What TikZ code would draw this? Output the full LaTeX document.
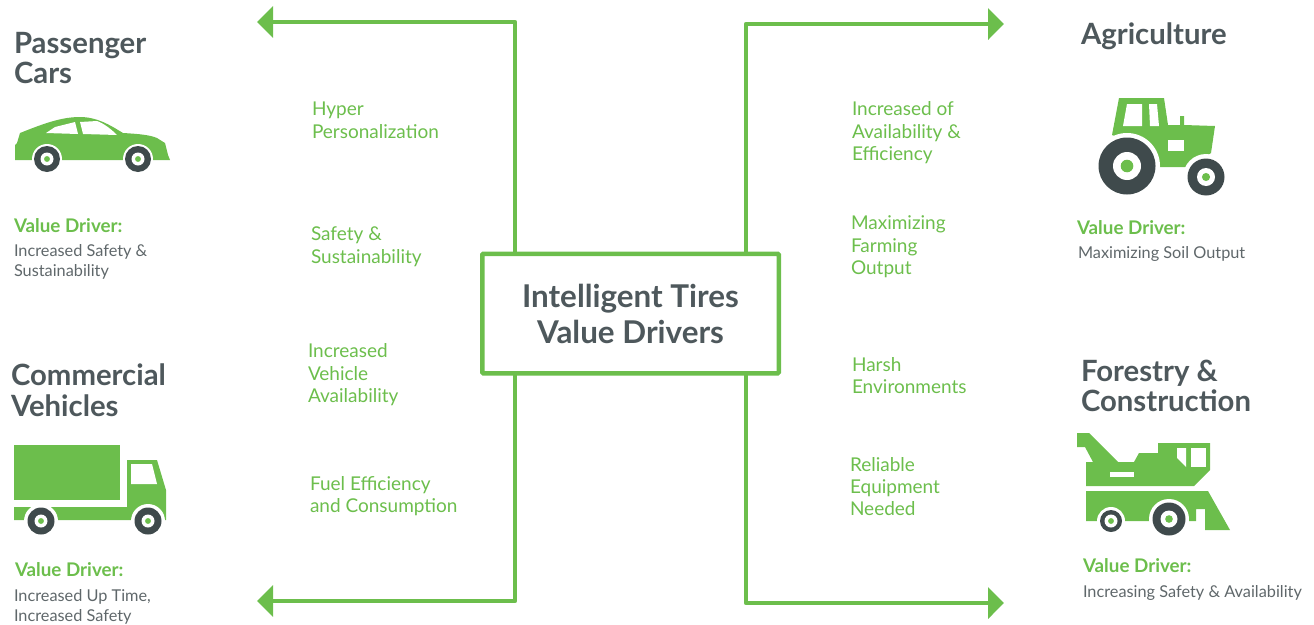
\documentclass[tikz,border=0pt]{standalone}
\usepackage{fontspec}
\setmainfont{Lato}
\usetikzlibrary{arrows.meta}
\definecolor{tiregreen}{HTML}{6CBE4C}
\definecolor{tiredark}{HTML}{3F4A4C}
\definecolor{headgray}{HTML}{4E585C}
\definecolor{bodygray}{HTML}{5F676A}
\newcommand{\tirewheel}[4]{% center, outer, hub, cut radius
    \fill[white] (#1) circle (#4);
    \fill[tiredark] (#1) circle (#2);
    \fill[white] (#1) circle (#3);
    \fill[tiregreen] (#1) circle (0.45*#3);
}
\begin{document}
\begin{tikzpicture}[x=1pt,y=-1pt,
        every node/.style={inner sep=0pt, outer sep=0pt, anchor=north west, align=left},
        heading/.style={font=\fontsize{29.3}{30.5}\selectfont\bfseries, text=headgray},
        benefit/.style={font=\fontsize{19}{22.4}\selectfont, text=tiregreen},
        drivertitle/.style={font=\fontsize{18.8}{20}\selectfont\bfseries, text=tiregreen},
        drivertext/.style={font=\fontsize{16.3}{20}\selectfont, text=bodygray},
        flowline/.style={draw=tiregreen, line width=4.5pt, line join=round,
            -{Triangle[length=16pt,width=31pt]}}]
            \useasboundingbox (0,0) rectangle (1314,624);
            % centre box
            \node[draw=tiregreen, line width=4.5pt, rounded corners=1pt, anchor=center, align=center,
                minimum width=296.5pt, minimum height=119.5pt, text=headgray,
                font=\fontsize{31.4}{36}\selectfont\bfseries] (drivers) at (630.5,313.5) {Intelligent Tires\\Value Drivers};
            \coordinate (tl) at (257,22);
            \coordinate (tr) at (1004,24);
            \coordinate (bl) at (257,601);
            \coordinate (br) at (1004,603);
            \draw[flowline] ([xshift=-115.5pt]drivers.north) |- (tl);
            \draw[flowline] ([xshift=115.5pt]drivers.north) |- (tr);
            \draw[flowline] ([xshift=-115.5pt]drivers.south) |- (bl);
            \draw[flowline] ([xshift=115.5pt]drivers.south) |- (br);
            % left column
            \node[heading] (cars) at (14,32) {Passenger\\Cars};
            \node[drivertitle] (carvalue) at (14,219) {Value Driver:};
            \node[drivertext] (cartext) at (14,244) {Increased Safety \&\\Sustainability};
            \node[heading] (trucks) at (11,364) {Commercial\\Vehicles};
            \node[drivertitle] (truckvalue) at (15,563) {Value Driver:};
            \node[drivertext] (trucktext) at (14,589) {Increased Up Time,\\Increased Safety};
            % left benefits
            \node[benefit] (b1) at (312,102) {Hyper\\Personalization};
            \node[benefit] (b2) at (311,227) {Safety \&\\Sustainability};
            \node[benefit] (b3) at (308,344) {Increased\\Vehicle\\Availability};
            \node[benefit] (b4) at (310,476) {Fuel Efficiency\\and Consumption};
            % right benefits
            \node[benefit] (b5) at (852,102) {Increased of\\Availability \&\\Efficiency};
            \node[benefit] (b6) at (851,216) {Maximizing\\Farming\\Output};
            \node[benefit] (b7) at (852,357) {Harsh\\Environments};
            \node[benefit] (b8) at (850,457) {Reliable\\Equipment\\Needed};
            % right column
            \node[heading] (farm) at (1081,23) {Agriculture};
            \node[drivertitle] (farmvalue) at (1077,221) {Value Driver:};
            \node[drivertext] (farmtext) at (1078,246) {Maximizing Soil Output};
            \node[heading] (forest) at (1081,360) {Forestry \&\\Construction};
            \node[drivertitle] (forestvalue) at (1083,559) {Value Driver:};
            \node[drivertext] (foresttext) at (1083,585) {Increasing Safety \& Availability};
            % car
            \fill[tiregreen] (15,160) -- (15,145) -- (17,143) -- (20,133) .. controls (45,123) and (62,117) .. (80,117)
                .. controls (97,117) and (110,125) .. (123,133) .. controls (140,134) and (150,135) .. (157,138)
                -- (165,143) -- (168,155) -- (170,160) -- cycle;
            \fill[white] (46,133) -- (55,127) -- (75,122) -- (78,134) -- cycle;
            \fill[white] (80,122) -- (97,121) .. controls (105,124) and (112,130) .. (117,135) -- (83,134) -- cycle;
            \tirewheel{47,159}{13pt}{6.5pt}{15pt}
            \tirewheel{138,159}{13pt}{6.5pt}{15pt}
            % truck
            \fill[tiregreen] (14,445) rectangle (120,500);
            \fill[tiregreen] (14,507) -- (127,507) -- (127,460) -- (157,460) -- (166,490) -- (166,520) -- (14,520) -- cycle;
            \fill[white] (131,464) -- (152,464) -- (157,484) -- (131,484) -- cycle;
            \tirewheel{41,521}{13.5pt}{6.5pt}{17pt}
            \tirewheel{148,521}{13.5pt}{6.5pt}{17pt}
            % tractor
            \fill[tiregreen] (1119,98) -- (1164,98) -- (1168,125) -- (1180,125) -- (1180,116) -- (1184,116) -- (1184,125)
                -- (1215,126) -- (1211,153) -- (1190,167) -- (1160,167) -- (1150,150) -- (1112,135) -- cycle;
            \fill[white] (1127,104) -- (1142,104) -- (1142,126) -- (1123,126) -- cycle;
            \fill[white] (1149,104) -- (1157,104) -- (1159,126) -- (1150,126) -- cycle;
            \fill[white] (1168,140) rectangle (1184,151);
            \tirewheel{1127,166}{28.5pt}{14pt}{33pt}
            \tirewheel{1206,177}{18.5pt}{9pt}{23pt}
            % crane
            \fill[tiregreen] (1077,433) -- (1089,433) -- (1118,462) -- (1134,462) -- (1139,453) -- (1158,453) -- (1158,443)
                -- (1210,443) -- (1210,470) -- (1194,486) -- (1086,486) -- (1086,462) -- (1093,462) -- (1085,447) -- (1077,447) -- cycle;
            \fill[white] (1177,448) -- (1186,448) -- (1186,467) -- (1177,458) -- cycle;
            \fill[white] (1191,448) rectangle (1206,467);
            \fill[white] (1110,472) rectangle (1134,477);
            \fill[tiregreen] (1086,491) -- (1208,491) -- (1230,530) -- (1205,530) -- (1205,509) -- (1196,509) -- (1196,521) -- (1086,521) -- cycle;
            \tirewheel{1111,521}{11pt}{6.5pt}{14pt}
            \tirewheel{1169,519}{16.5pt}{8.5pt}{20pt}
        \end{tikzpicture}
\end{document}
